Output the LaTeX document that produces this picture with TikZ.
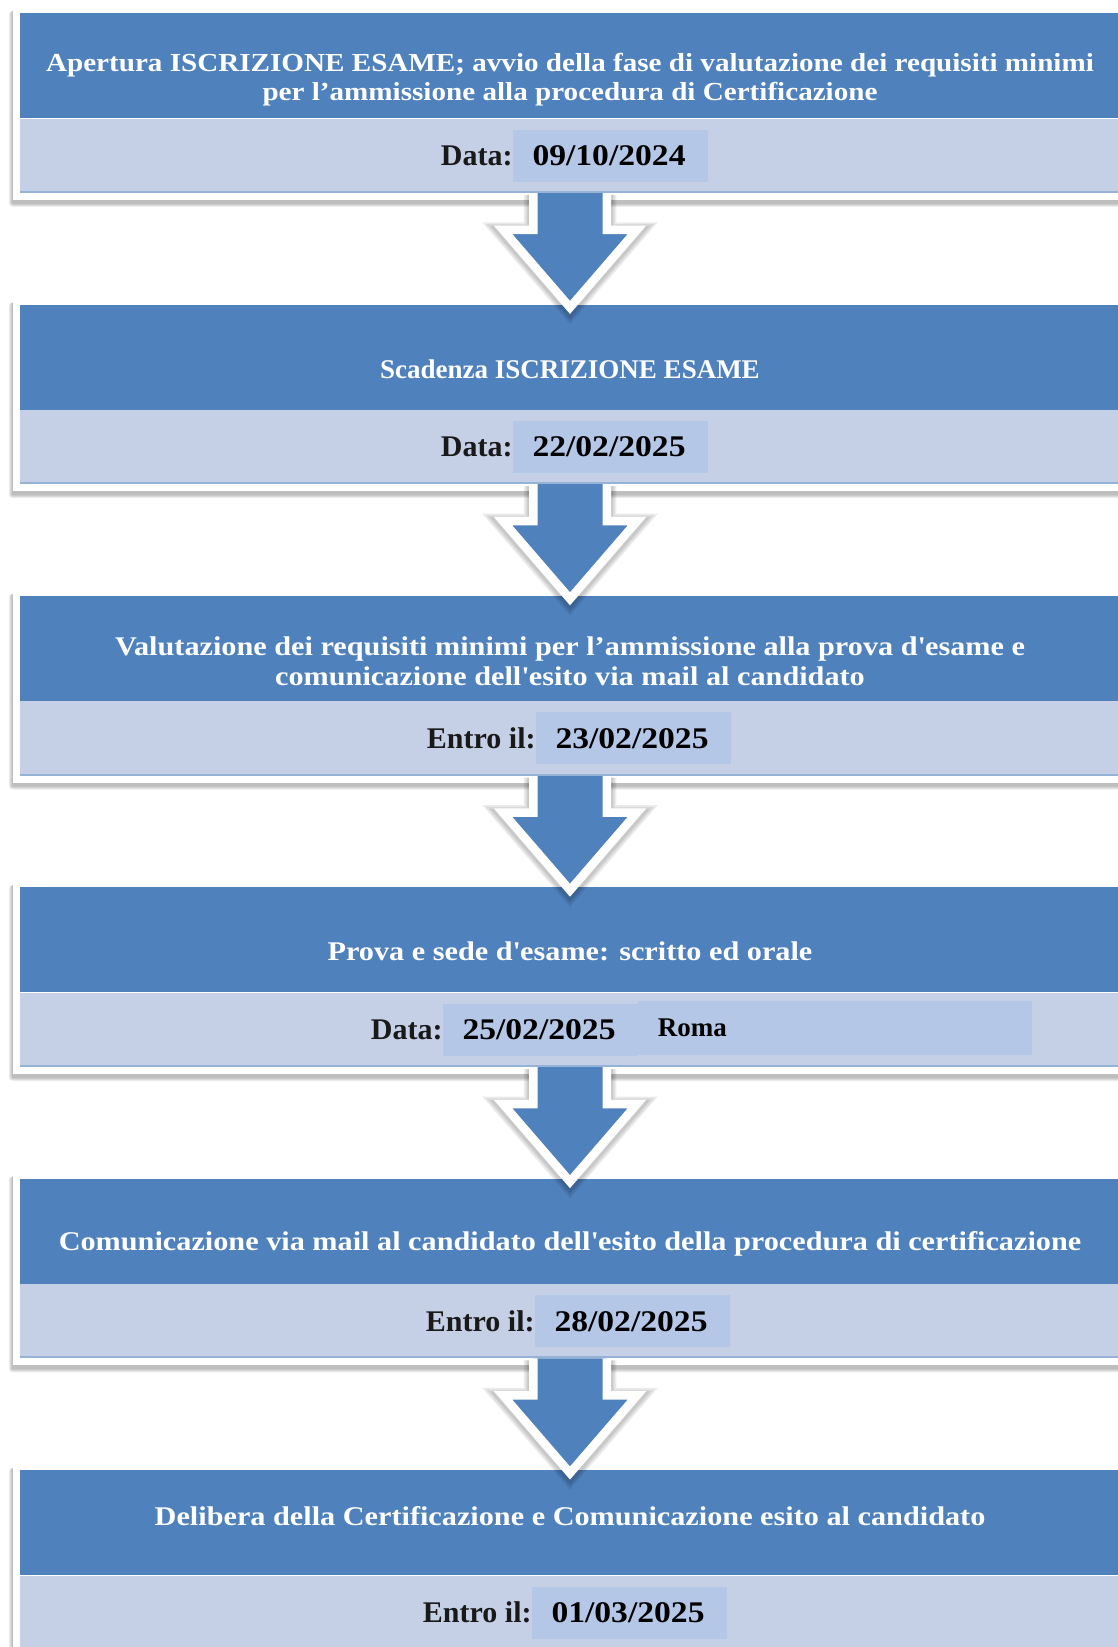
\documentclass[tikz,border=0pt]{standalone}
\usepackage{fontspec}
\setmainfont{Liberation Serif}
\newfontfamily\widefont[FakeStretch=1.12]{Liberation Serif}
\usetikzlibrary{positioning, fit, calc, backgrounds}

\definecolor{stepblue}{HTML}{4F81BD}
\definecolor{bandblue}{HTML}{C5D0E6}
\definecolor{dateblue}{HTML}{B4C7E7}
\definecolor{lineblue}{HTML}{95B3D7}

\begin{document}
\begin{tikzpicture}[x=1pt, y=1pt,
    titlebox/.style={rectangle, fill=stepblue, minimum width=1100pt, minimum height=105pt, inner sep=0pt},
    band/.style={rectangle, fill=bandblue, minimum width=1100pt, minimum height=74pt, inner sep=0pt},
    frame/.style={rectangle, fill=white, inner sep=7pt},
    frameshadow/.style={fill=black, fill opacity=.07},
    titletext/.style={text=white, font=\widefont\bfseries\fontsize{27}{30}\selectfont, align=center, inner sep=0pt},
    datelabel/.style={text=black!90, font=\bfseries\fontsize{30}{32}\selectfont, inner sep=0pt},
    datebox/.style={fill=dateblue, text width=156pt, align=left, inner xsep=19.5pt, inner ysep=0pt,
        minimum height=52pt, font=\widefont\bfseries\fontsize{30}{32}\selectfont},
    arrowshadow/.style={preaction={draw=black, draw opacity=.08, line width=#1,
        line join=miter, transform canvas={yshift=-2pt}}},
    blockarrow/.style={arrowshadow=19pt, arrowshadow=15.5pt, arrowshadow=12pt,
        fill=stepblue, draw=white, line width=8.5pt, line join=miter}
]
    \useasboundingbox (0,0) rectangle (1118,-1647);

    % steps
    \node[titlebox, anchor=north] (title1) at (570,-13) {};
    \node[band, below=0pt of title1] (band1) {};
    \node[titlebox, below=111.6pt of band1] (title2) {};
    \node[band, below=0pt of title2] (band2) {};
    \node[titlebox, below=111.6pt of band2] (title3) {};
    \node[band, below=0pt of title3] (band3) {};
    \node[titlebox, below=111.6pt of band3] (title4) {};
    \node[band, below=0pt of title4] (band4) {};
    \node[titlebox, below=111.6pt of band4] (title5) {};
    \node[band, below=0pt of title5] (band5) {};
    \node[titlebox, below=111.6pt of band5] (title6) {};
    \node[band, below=0pt of title6] (band6) {};

    % white frames with soft shadow
    \begin{scope}[on background layer]
        \foreach \i in {1,...,6} {
            \foreach \k in {1,...,4}
                \fill[frameshadow, rounded corners=\k pt]
                    ($(title\i.north west)+(-7-\k,2)$) rectangle ($(band\i.south east)+(7+\k,-7-\k-3)$);
            \node[frame, fit=(title\i)(band\i)] (frame\i) {};
        }
    \end{scope}

    % titles
    \node[titletext, font=\widefont\bfseries\fontsize{26}{29}\selectfont] (text1) at ($(title1.north)+(0,-67)$)
        {Apertura ISCRIZIONE ESAME; avvio della fase di valutazione dei requisiti minimi\\
         per l’ammissione alla procedura di Certificazione};
    \node[titletext, font=\bfseries\fontsize{27}{30}\selectfont] (text2) at ($(title2.north)+(0,-65)$)
        {Scadenza ISCRIZIONE ESAME};
    \node[titletext] (text3) at ($(title3.north)+(0,-65)$)
        {Valutazione dei requisiti minimi per l’ammissione alla prova d\textquotesingle esame e\\
         comunicazione dell\textquotesingle esito via mail al candidato};
    \node[titletext] (text4) at ($(title4.north)+(0,-64)$) {Prova e sede d\textquotesingle esame: scritto ed orale};
    \node[titletext] (text5) at ($(title5.north)+(0,-65)$)
        {Comunicazione via mail al candidato dell\textquotesingle esito della procedura di certificazione};
    \node[titletext] (text6) at ($(title6.north)+(0,-46)$)
        {Delibera della Certificazione e Comunicazione esito al candidato};

    % dates
    \node[datebox, right=493pt of band1.west] (date1) {09/10/2024};
    \node[datelabel, left=0pt of date1] (label1) {Data:};
    \node[datebox, right=493pt of band2.west] (date2) {22/02/2025};
    \node[datelabel, left=0pt of date2] (label2) {Data:};
    \node[datebox, right=516pt of band3.west] (date3) {23/02/2025};
    \node[datelabel, left=0pt of date3] (label3) {Entro il:};
    \node[datebox, right=423pt of band4.west] (date4) {25/02/2025};
    \node[datelabel, left=0pt of date4] (label4) {Data:};
    \node[datebox, right=0pt of date4, text width=355pt, minimum height=54pt,
        font=\bfseries\fontsize{27}{30}\selectfont, yshift=2pt] (place4) {Roma};
    \node[datebox, right=515pt of band5.west] (date5) {28/02/2025};
    \node[datelabel, left=0pt of date5] (label5) {Entro il:};
    \node[datebox, right=512pt of band6.west] (date6) {01/03/2025};
    \node[datelabel, left=0pt of date6] (label6) {Entro il:};

    % arrows
    \foreach \i/\j in {1/2,2/3,3/4,4/5,5/6} {
        \begin{scope}
            \clip (band\i.south west) rectangle ($(title\j.north east)+(0,-20)$);
            \draw[blockarrow] ($(band\i.south)+(-36.75,0)$) -- ($(title\j.north)+(-36.75,74.6)$)
                -- ($(title\j.north)+(-67,74.6)$) -- ($(title\j.north)+(0,-3)$)
                -- ($(title\j.north)+(67,74.6)$) -- ($(title\j.north)+(36.75,74.6)$)
                -- ($(band\i.south)+(36.75,0)$);
        \end{scope}
    }

    % band edges
    \foreach \i in {1,...,6}
        \draw[lineblue, line width=2pt] ($(band\i.south west)+(0,1)$) -- ($(band\i.south east)+(0,1)$);
\end{tikzpicture}
\end{document}
